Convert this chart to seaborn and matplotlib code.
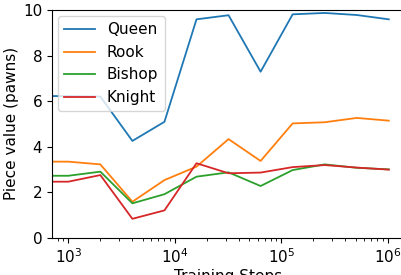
import pandas as pd
import seaborn as sns
import matplotlib.pyplot as plt

# Training steps (log scale) and learned piece values
steps = [500, 1000, 2000, 4000, 8000, 16000, 32000, 64000, 128000, 256000, 512000, 1024000]
queen = [6.22, 6.22, 6.2, 4.25, 5.09, 9.59, 9.77, 7.29, 9.81, 9.87, 9.78, 9.59]
rook = [3.34, 3.34, 3.22, 1.58, 2.53, 3.12, 4.33, 3.37, 5.02, 5.07, 5.26, 5.14]
bishop = [2.72, 2.72, 2.9, 1.51, 1.91, 2.68, 2.87, 2.27, 2.97, 3.22, 3.07, 3.0]
knight = [2.46, 2.46, 2.75, 0.83, 1.2, 3.27, 2.83, 2.86, 3.1, 3.19, 3.08, 2.99]

pieces = {"Queen": queen, "Rook": rook, "Bishop": bishop, "Knight": knight}
df = pd.concat(
    [pd.DataFrame({"step": steps, "value": v, "piece": k}) for k, v in pieces.items()]
)

fig = plt.figure(figsize=(4.02, 2.75), dpi=100)
# axes runs slightly past the right edge of the figure (right spine hidden by crop)
ax = fig.add_axes([52 / 402, 37.3 / 275, 352 / 402, 227.7 / 275])

sns.lineplot(
    data=df, x="step", y="value", hue="piece",
    palette=["#1f77b4", "#ff7f0e", "#2ca02c", "#d62728"],
    linewidth=1.3, ax=ax,
)

ax.set_xscale("log")
ax.set_xlim(10 ** 2.847, 10 ** 6.153)
ax.set_ylim(0, 10)
ax.set_yticks([0, 2, 4, 6, 8, 10])
ax.tick_params(labelsize=11)
ax.set_xlabel("Training Steps", fontsize=11, labelpad=2)
ax.set_ylabel("Piece value (pawns)", fontsize=11, labelpad=3)
ax.legend(loc="upper left", fontsize=11, handlelength=2.0, borderaxespad=0.4)

plt.savefig("out.png", dpi=100)
